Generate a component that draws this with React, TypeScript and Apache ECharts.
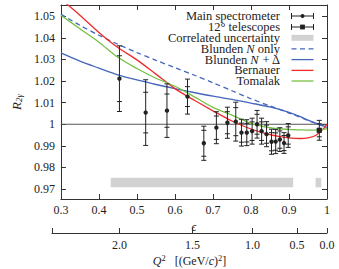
import React, { useEffect, useRef } from "react";
import * as echarts from "echarts";

// ---------- data ----------
const X_MIN = 0.3;
const X_MAX = 1.0;
const Y_MIN = 0.9654;
const Y_MAX = 1.0552;

const EPS_TICKS = [0.3, 0.4, 0.5, 0.6, 0.7, 0.8, 0.9, 1.0];
const R_TICKS = [0.97, 0.98, 0.99, 1.0, 1.01, 1.02, 1.03, 1.04, 1.05];

// Q^2 axis: tick labels and where they sit on the epsilon scale
const Q2_TICK_LABELS = ["2.0", "1.5", "1.0", "0.5", "0.0"];
const Q2_TICK_EPS = [0.4715, 0.6575, 0.8104, 0.9236, 1.0];

// Main spectrometer
const MAIN_EPS = [0.454, 0.523, 0.579, 0.633, 0.676, 0.709, 0.738, 0.760, 0.775, 0.789, 0.803, 0.816, 0.828, 0.841, 0.854, 0.865, 0.876, 0.887, 0.898];
const MAIN_R = [1.0211, 1.0054, 1.0063, 1.0128, 0.9912, 0.9984, 1.0007, 1.0012, 0.9961, 0.9961, 0.9968, 1.0000, 0.9968, 0.9954, 0.9919, 0.9920, 0.9929, 0.9913, 0.9948];
const MAIN_STAT = [0.0106, 0.0094, 0.0077, 0.0046, 0.0060, 0.0054, 0.0051, 0.0065, 0.0044, 0.0043, 0.0043, 0.0046, 0.0043, 0.0042, 0.0042, 0.0040, 0.0040, 0.0035, 0.0040];
const MAIN_TOT = [0.0152, 0.0152, 0.0124, 0.0081, 0.0079, 0.0074, 0.0072, 0.0090, 0.0062, 0.0060, 0.0060, 0.0064, 0.0060, 0.0058, 0.0058, 0.0056, 0.0055, 0.0048, 0.0055];

// 12 degree telescopes
const TEL_EPS = [0.9797];
const TEL_R = [0.9972];
const TEL_STAT = [0.0030];
const TEL_TOT = [0.0046];

// Correlated uncertainty bands [eps start, eps end, R low, R high]
const CORR_EPS_START = [0.431, 0.970];
const CORR_EPS_END = [0.911, 0.985];
const CORR_R_LOW = [0.9708, 0.9708];
const CORR_R_HIGH = [0.9752, 0.9752];

// Theory curves
const CURVE_EPS = [0.3, 0.35, 0.4, 0.45, 0.5, 0.55, 0.6, 0.65, 0.7, 0.75, 0.8, 0.85, 0.9, 0.93, 0.95, 0.97, 0.99, 1.0];
const BLUNDEN_N = [1.051, 1.0458, 1.0412, 1.037, 1.0332, 1.0296, 1.0262, 1.0228, 1.0192, 1.0155, 1.0118, 1.0085, 1.0052, 1.0032, 1.0018, 1.0005, 0.9992, 0.9985];
const BLUNDEN_ND = [1.033, 1.0292, 1.026, 1.0229, 1.0205, 1.0184, 1.0165, 1.0147, 1.013, 1.0115, 1.0098, 1.008, 1.0055, 1.0035, 1.0019, 1.0005, 0.9992, 0.9985];
const BERNAUER = [1.058, 1.0505, 1.0425, 1.0355, 1.0298, 1.0232, 1.0165, 1.0112, 1.0062, 1.0015, 0.9978, 0.9952, 0.9937, 0.9934, 0.9937, 0.9948, 0.9978, 1.0];
const TOMALAK = [1.0505, 1.0442, 1.038, 1.031, 1.0258, 1.0213, 1.0176, 1.0128, 1.0078, 1.0042, 1.0004, 0.9984, 0.9976, 0.9974, 0.9973, 0.9973, 0.9976, 0.998];

// ---------- styles ----------
const FONT = "Liberation Serif, DejaVu Serif, serif";
const INK = "#222";
const FRAME = "#333";
const BLUE = "#4466bb";
const RED = "#ee2a2a";
const GREEN = "#77c043";
const GRAY = "#d2d2d2";

const zip = (xs: number[], ys: number[]) => xs.map((x, i) => [x, ys[i]]);

function errorBarRender(marker: "circle" | "square") {
  return (params: any, api: any) => {
    const x = api.value(0);
    const y = api.value(1);
    const st = api.value(2);
    const tot = api.value(3);
    const c = api.coord([x, y]);
    const hT = api.coord([x, y + tot]);
    const lT = api.coord([x, y - tot]);
    const hS = api.coord([x, y + st]);
    const lS = api.coord([x, y - st]);
    const w = 2.5;
    const ls = { stroke: INK, lineWidth: 1 };
    const cap = (p: number[]) => ({
      type: "line",
      shape: { x1: p[0] - w, y1: p[1], x2: p[0] + w, y2: p[1] },
      style: ls,
    });
    const mark =
      marker === "circle"
        ? { type: "circle", shape: { cx: c[0], cy: c[1], r: 2.2 }, style: { fill: INK } }
        : { type: "rect", shape: { x: c[0] - 2.6, y: c[1] - 2.6, width: 5.2, height: 5.2 }, style: { fill: INK } };
    return {
      type: "group",
      children: [
        { type: "line", shape: { x1: hT[0], y1: hT[1], x2: lT[0], y2: lT[1] }, style: ls },
        cap(hT),
        cap(lT),
        cap(hS),
        cap(lS),
        mark,
      ],
    };
  };
}

function legendGraphics() {
  const textX = 280;
  const sx0 = 291.5;
  const sx1 = 313.5;
  const rows = [16, 27, 37.8, 48.8, 59.6, 70.4, 81];
  const rich = { i: { fontStyle: "italic", fontFamily: FONT, fontSize: 12.5, fill: INK, lineHeight: 10.5 } };
  const labels = [
    "Main spectrometer",
    "12° telescopes",
    "Correlated uncertainty",
    "Blunden {i|N} only",
    "Blunden {i|N} + Δ",
    "Bernauer",
    "Tomalak",
  ];
  const els: any[] = labels.map((t, k) => ({
    type: "text",
    x: textX,
    y: rows[k],
    style: {
      text: t,
      fill: INK,
      fontFamily: FONT,
      fontSize: 12.5,
      lineHeight: 10.5,
      align: "right",
      verticalAlign: "middle",
      rich,
    },
  }));
  const mid = (sx0 + sx1) / 2;
  const ls = { stroke: INK, lineWidth: 1 };
  [0, 1].forEach((k) => {
    const y = rows[k];
    els.push({ type: "line", shape: { x1: sx0, y1: y, x2: sx1, y2: y }, style: ls });
    els.push({ type: "line", shape: { x1: sx0, y1: y - 3, x2: sx0, y2: y + 3 }, style: ls });
    els.push({ type: "line", shape: { x1: sx1, y1: y - 3, x2: sx1, y2: y + 3 }, style: ls });
    if (k === 0) els.push({ type: "circle", shape: { cx: mid, cy: y, r: 2 }, style: { fill: INK } });
    else els.push({ type: "rect", shape: { x: mid - 2.4, y: y - 2.4, width: 4.8, height: 4.8 }, style: { fill: INK } });
  });
  els.push({ type: "rect", shape: { x: sx0, y: rows[2] - 3, width: sx1 - sx0, height: 6 }, style: { fill: GRAY } });
  const lineRows: [number, string, any][] = [
    [3, BLUE, [5, 3.5]],
    [4, BLUE, null],
    [5, RED, null],
    [6, GREEN, null],
  ];
  lineRows.forEach(([k, col, dash]) => {
    els.push({
      type: "line",
      shape: { x1: sx0, y1: rows[k], x2: sx1, y2: rows[k] },
      style: { stroke: col, lineWidth: 1.3, lineDash: dash || undefined },
    });
  });
  return els;
}

export default function App() {
  const ref = useRef<HTMLDivElement>(null);
  useEffect(() => {
    if (!ref.current) return;
    const chart = echarts.init(ref.current, null, { renderer: "svg" });
    const tickLabel = { fontFamily: FONT, fontSize: 12, color: INK };
    const fmtX = (v: number) => (Math.abs(v - 1) < 1e-9 ? "1" : v.toFixed(1));
    const fmtY = (v: number) => (Math.abs(v - 1) < 1e-9 ? "1" : v.toFixed(2));
    const axisLine = { show: true, onZero: false, lineStyle: { color: FRAME, width: 1 } };
    const tickStyle = { color: FRAME, width: 1 };

    const lineSeries = (name: string, ys: number[], color: string, dash?: number[]) => ({
      name,
      type: "line",
      xAxisIndex: 0,
      yAxisIndex: 0,
      data: zip(CURVE_EPS, ys),
      symbol: "none",
      smooth: 0.3,
      clip: true,
      z: 3,
      lineStyle: { color, width: 1.3, type: dash || "solid" },
    });

    chart.setOption({
      animation: false,
      backgroundColor: "#fff",
      textStyle: { fontFamily: FONT },
      grid: [
        { left: 52, right: 12, top: 5, height: 194 },
        { left: 52, right: 12, top: 232, height: 1 },
      ],
      xAxis: [
        {
          gridIndex: 0,
          type: "value",
          position: "bottom",
          min: X_MIN,
          max: X_MAX,
          axisLine,
          axisTick: { show: true, inside: true, length: 5, customValues: EPS_TICKS, lineStyle: tickStyle },
          axisLabel: { ...tickLabel, margin: 5, customValues: EPS_TICKS, formatter: fmtX },
          splitLine: { show: false },
          name: "ϵ",
          nameLocation: "middle",
          nameGap: 21,
          nameTextStyle: { fontFamily: FONT, fontSize: 12, color: INK, fontStyle: "italic" },
        },
        {
          gridIndex: 0,
          type: "value",
          position: "top",
          min: X_MIN,
          max: X_MAX,
          axisLine,
          axisTick: { show: true, inside: true, length: 5, customValues: EPS_TICKS, lineStyle: tickStyle },
          axisLabel: { show: false },
          splitLine: { show: false },
        },
        {
          gridIndex: 1,
          type: "value",
          position: "bottom",
          min: X_MIN,
          max: X_MAX,
          axisLine,
          axisTick: { show: true, inside: true, length: 5, customValues: [X_MIN, ...Q2_TICK_EPS], lineStyle: tickStyle },
          axisLabel: {
            ...tickLabel,
            margin: 6,
            customValues: Q2_TICK_EPS,
            formatter: (v: number) => {
              const i = Q2_TICK_EPS.findIndex((e) => Math.abs(e - v) < 1e-6);
              return i >= 0 ? Q2_TICK_LABELS[i] : "";
            },
          },
          splitLine: { show: false },
          name: "{q|Q}{p|2}{t|   [(GeV/}{q|c}{t|)}{p|2}{t|]}",
          nameLocation: "middle",
          nameGap: 19,
          nameTextStyle: {
            rich: {
              q: { fontFamily: FONT, fontSize: 12, fontStyle: "italic", color: INK, lineHeight: 13, verticalAlign: "bottom", padding: [3, 0, 0, 0] },
              t: { fontFamily: FONT, fontSize: 12, color: INK, lineHeight: 13, verticalAlign: "bottom", padding: [3, 0, 0, 0] },
              p: { fontFamily: FONT, fontSize: 8.5, color: INK, lineHeight: 9, verticalAlign: "top" },
            },
          },
        },
      ],
      yAxis: [
        {
          gridIndex: 0,
          type: "value",
          position: "left",
          min: Y_MIN,
          max: Y_MAX,
          axisLine,
          axisTick: { show: true, inside: true, length: 5, customValues: R_TICKS, lineStyle: tickStyle },
          axisLabel: { ...tickLabel, margin: 6, customValues: R_TICKS, formatter: fmtY },
          splitLine: { show: false },
          name: "{r|R}{s|2γ}",
          nameLocation: "middle",
          nameRotate: 90,
          nameGap: 34,
          nameTextStyle: {
            rich: {
              r: { fontFamily: FONT, fontSize: 13, fontStyle: "italic", color: INK, lineHeight: 13, verticalAlign: "top" },
              s: { fontFamily: FONT, fontSize: 9, fontStyle: "italic", color: INK, lineHeight: 9, verticalAlign: "bottom", padding: [6, 0, 0, 0] },
            },
          },
        },
        {
          gridIndex: 0,
          type: "value",
          position: "right",
          min: Y_MIN,
          max: Y_MAX,
          axisLine,
          axisTick: { show: true, inside: true, length: 5, customValues: R_TICKS, lineStyle: tickStyle },
          axisLabel: { show: false },
          splitLine: { show: false },
        },
        { gridIndex: 1, type: "value", show: false, min: 0, max: 1 },
      ],
      series: [
        {
          name: "Correlated uncertainty",
          type: "custom",
          xAxisIndex: 0,
          yAxisIndex: 0,
          z: 1,
          data: CORR_EPS_START.map((s, i) => [s, CORR_EPS_END[i], CORR_R_LOW[i], CORR_R_HIGH[i]]),
          encode: { x: [0, 1], y: [2, 3] },
          renderItem: (params: any, api: any) => {
            const a = api.coord([api.value(0), api.value(3)]);
            const b = api.coord([api.value(1), api.value(2)]);
            return {
              type: "rect",
              shape: { x: a[0], y: a[1], width: b[0] - a[0], height: b[1] - a[1] },
              style: { fill: GRAY },
            };
          },
        },
        {
          name: "unity",
          type: "line",
          xAxisIndex: 0,
          yAxisIndex: 0,
          data: [[X_MIN, 1], [X_MAX, 1]],
          symbol: "none",
          silent: true,
          z: 2,
          lineStyle: { color: "#555", width: 1 },
        },
        lineSeries("Blunden N only", BLUNDEN_N, BLUE, [5, 3.5]),
        lineSeries("Blunden N + Δ", BLUNDEN_ND, BLUE),
        lineSeries("Bernauer", BERNAUER, RED),
        lineSeries("Tomalak", TOMALAK, GREEN),
        {
          name: "Main spectrometer",
          type: "custom",
          xAxisIndex: 0,
          yAxisIndex: 0,
          z: 5,
          data: MAIN_EPS.map((e, i) => [e, MAIN_R[i], MAIN_STAT[i], MAIN_TOT[i]]),
          encode: { x: 0, y: 1 },
          renderItem: errorBarRender("circle"),
        },
        {
          name: "12° telescopes",
          type: "custom",
          xAxisIndex: 0,
          yAxisIndex: 0,
          z: 5,
          data: TEL_EPS.map((e, i) => [e, TEL_R[i], TEL_STAT[i], TEL_TOT[i]]),
          encode: { x: 0, y: 1 },
          renderItem: errorBarRender("square"),
        },
      ],
      graphic: legendGraphics(),
    });
    return () => chart.dispose();
  }, []);
  return (
    <div
      ref={ref}
      style={{ position: "fixed", left: 0, top: 0, width: 339, height: 269, background: "#fff" }}
    />
  );
}
